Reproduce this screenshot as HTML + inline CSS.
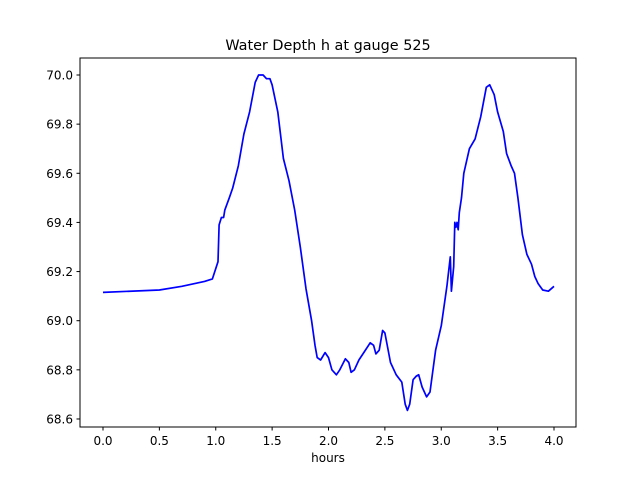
<!DOCTYPE html>
<html><head><meta charset="utf-8"><style>
body{margin:0;background:#fff;}
svg text{font-family:"DejaVu Sans","Liberation Sans",sans-serif;}
</style></head><body>
<svg id="chart" width="640" height="480" xmlns="http://www.w3.org/2000/svg">
<rect width="640" height="480" fill="#fff"/>
<text x="328" y="50" font-size="14.4" text-anchor="middle">Water Depth h at gauge 525</text>
<g id="ticks"></g>
<path id="line" fill="none" stroke="#0000ff" stroke-width="1.7" stroke-linejoin="round"/>
<rect x="80" y="58" width="496" height="369" fill="none" stroke="#000" stroke-width="1"/>
<text x="328" y="462" font-size="12" text-anchor="middle">hours</text>
</svg>
<script>
const hours=[0,0.5,0.7,0.9,0.97,1.02,1.03,1.05,1.07,1.08,1.12,1.15,1.2,1.25,1.3,1.35,1.38,1.42,1.45,1.48,1.5,1.55,1.6,1.65,1.7,1.75,1.8,1.85,1.88,1.9,1.93,1.97,2.0,2.03,2.07,2.1,2.15,2.18,2.2,2.23,2.27,2.32,2.37,2.4,2.42,2.45,2.48,2.5,2.55,2.6,2.65,2.68,2.7,2.72,2.75,2.78,2.8,2.83,2.87,2.9,2.95,3.0,3.05,3.08,3.09,3.11,3.12,3.13,3.14,3.15,3.16,3.18,3.2,3.25,3.3,3.35,3.4,3.43,3.47,3.5,3.55,3.58,3.62,3.65,3.68,3.72,3.76,3.8,3.83,3.86,3.9,3.95,4.0];
const depth=[69.115,69.125,69.14,69.16,69.17,69.24,69.39,69.42,69.42,69.45,69.5,69.54,69.63,69.76,69.85,69.97,70.0,70.0,69.985,69.985,69.96,69.85,69.66,69.57,69.45,69.3,69.13,69.0,68.9,68.85,68.84,68.87,68.85,68.8,68.78,68.8,68.845,68.83,68.79,68.8,68.84,68.875,68.91,68.9,68.865,68.88,68.96,68.95,68.83,68.78,68.75,68.66,68.635,68.66,68.76,68.775,68.78,68.73,68.69,68.71,68.88,68.98,69.14,69.26,69.12,69.22,69.4,69.38,69.4,69.37,69.44,69.5,69.6,69.7,69.74,69.83,69.95,69.96,69.92,69.85,69.77,69.68,69.63,69.6,69.5,69.35,69.27,69.23,69.18,69.15,69.125,69.12,69.14];
const xTicks=[0,0.5,1,1.5,2,2.5,3,3.5,4];
const xTickLabels=["0.0","0.5","1.0","1.5","2.0","2.5","3.0","3.5","4.0"];
const yTicks=[68.6,68.8,69.0,69.2,69.4,69.6,69.8,70.0];
const yTickLabels=["68.6","68.8","69.0","69.2","69.4","69.6","69.8","70.0"];
const X=v=>103+v*112.75;
const Y=v=>75+(70-v)*245.7;
const NS="http://www.w3.org/2000/svg";
const g=document.getElementById('ticks');
function mk(t,a){const e=document.createElementNS(NS,t);for(const k in a)e.setAttribute(k,a[k]);g.appendChild(e);return e;}
xTicks.forEach((v,i)=>{
 const l=mk('line',{x1:X(v),x2:X(v),y1:427,y2:430.5,stroke:'#000'});
 
 
 const t=mk('text',{x:X(v),y:445,'font-size':12,'text-anchor':'middle'});
 
 
 t.textContent=xTickLabels[i];
});
yTicks.forEach((v,i)=>{
 const l=mk('line',{x1:76.5,x2:80,y1:Y(v),y2:Y(v),stroke:'#000'});
 
 
 const t=mk('text',{x:73,y:Y(v)+4.5,'font-size':12,'text-anchor':'end'});
 
 
 t.textContent=yTickLabels[i];
});
document.getElementById('line').setAttribute('d',hours.map((h,i)=>(i?'L':'M')+X(h).toFixed(1)+','+Y(depth[i]).toFixed(1)).join(''));
</script>
</body></html>
